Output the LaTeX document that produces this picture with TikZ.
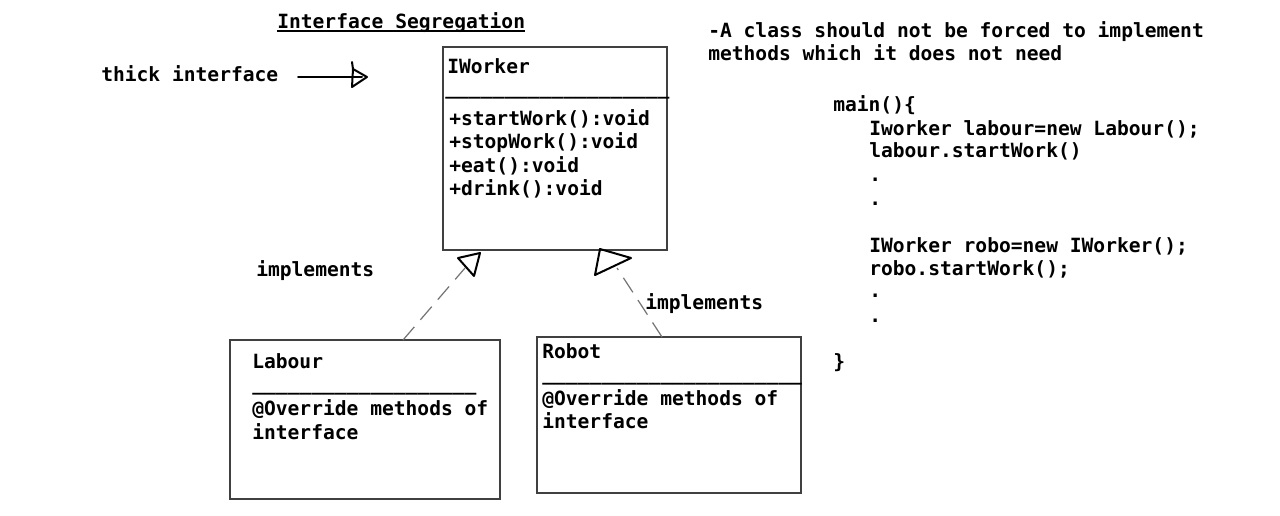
\documentclass[tikz,border=0pt]{standalone}
\usepackage{fontspec}
\setmonofont{DejaVu Sans Mono}
\usetikzlibrary{fit,calc}
\begin{document}
\begin{tikzpicture}[x=0.75pt,y=-0.75pt,
  txt/.style={anchor=base west,inner sep=0pt,font=\ttfamily\bfseries\fontsize{14.7}{17}\selectfont},
  box/.style={draw=black!75,line width=1pt,inner sep=0pt},
  dashline/.style={draw=black!55,line width=0.9pt,dash pattern=on 13pt off 7pt},
  head/.style={draw=black,line width=1.5pt,line join=round,line cap=round}]
\useasboundingbox[fill=white] (0,0) rectangle (1280,515);
% title
\node[txt] (title) at (277,28) {Interface Segregation};
\draw[line width=0.9pt] ($(title.base west)+(0,3)$) -- ($(title.base east)+(0,3)$);
% thick interface arrow
\node[txt] (thick) at (101,81) {thick interface};
\coordinate (a0) at (298,77);
\coordinate (a1) at (362,77);
\draw[head] (a0) -- (a1);
\draw[head] (352,62) -- (353,69) -- (367,77) -- (352,87) -- (353,69);
% IWorker
\node[box,fit={(443,47) (667,250)}] (iw) {};
\node[txt] (iwn) at (447,73) {IWorker};
\node[txt] (iwl) at (445,94) {\_\_\_\_\_\_\_\_\_\_\_\_\_\_\_\_\_\_\_};
\node[txt] (m1) at (449,125) {+startWork():void};
\node[txt] (m2) at (449,148) {+stopWork():void};
\node[txt] (m3) at (449,172) {+eat():void};
\node[txt] (m4) at (449,195) {+drink():void};
% Labour
\node[box,fit={(230,340) (500,499)}] (lab) {};
\node[txt] (labn) at (252,368) {Labour};
\node[txt] (labl) at (252,390) {\_\_\_\_\_\_\_\_\_\_\_\_\_\_\_\_\_\_\_};
\node[txt] (lab1) at (252,415) {@Override methods of};
\node[txt] (lab2) at (252,439) {interface};
% Robot
\node[box,fit={(537,337) (801,493)}] (rob) {};
\node[txt] (robn) at (542,358) {Robot};
\node[txt] (robl) at (542,380) {\_\_\_\_\_\_\_\_\_\_\_\_\_\_\_\_\_\_\_\_\_\_};
\node[txt] (rob1) at (542,405) {@Override methods of};
\node[txt] (rob2) at (542,428) {interface};
% realization connectors
\coordinate (ls) at (403,340);
\coordinate (le) at (465,268);
\draw[dashline] (ls) -- (le);
\draw[head] (458,258) -- (480,253) -- (474,276) -- cycle;
\coordinate (rs) at (662,337);
\coordinate (re) at (617,268);
\draw[dashline] (rs) -- (re);
\draw[head] (600,249) -- (631,258) -- (595,275) -- cycle;
\node[txt] (imp1) at (256,276) {implements};
\node[txt] (imp2) at (645,309) {implements};
% description
\node[txt] (d1) at (708,37) {-A class should not be forced to implement};
\node[txt] (d2) at (708,60) {methods which it does not need};
% code
\node[txt] (c0) at (833,111) {main()\{};
\node[txt] (c1) at (869,135) {Iworker labour=new Labour();};
\node[txt] (c2) at (869,157) {labour.startWork()};
\node[txt] (c3) at (869,181) {.};
\node[txt] (c4) at (869,205) {.};
\node[txt] (c5) at (869,252) {IWorker robo=new IWorker();};
\node[txt] (c6) at (869,275) {robo.startWork();};
\node[txt] (c7) at (869,297) {.};
\node[txt] (c8) at (869,322) {.};
\node[txt] (c9) at (833,368) {\}};
\end{tikzpicture}
\end{document}
